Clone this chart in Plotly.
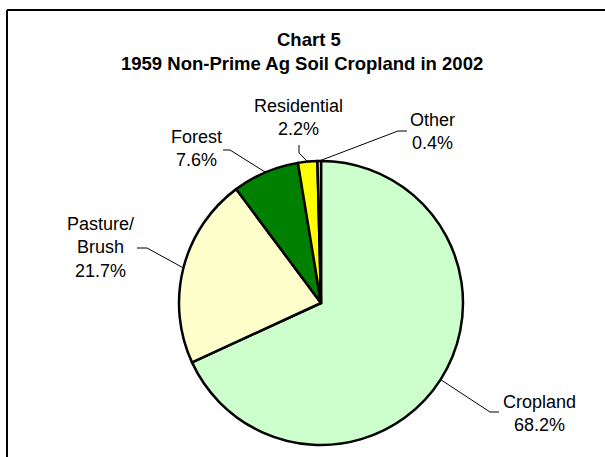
import math
import plotly.graph_objects as go

# ---- data ----
categories = ["Cropland", "Pasture/<br>Brush", "Forest", "Residential", "Other"]
values = [68.2, 21.7, 7.6, 2.2, 0.4]
colors = ["#CCFFCC", "#FFFFCC", "#008000", "#FFFF00", "#FFFFFF"]
title_lines = ["Chart 5", "1959 Non-Prime Ag Soil Cropland in 2002"]

# ---- layout (pixels) ----
W, H = 605, 457
CX, CY, R = 321, 303, 142
FONT = "Liberation Sans, Arial, sans-serif"

def px(x):
    return x / W

def py(y):
    return 1 - y / H

# label block centres and leader elbow/end points (pixels)
label_pos = [(539, 413), (100, 247), (196, 148), (298, 117), (432, 131)]
leader_pts = [
    [(499, 412), (490, 412)],
    [(137, 248), (147, 248)],
    [(223, 150), (230, 150)],
    [(299, 145), (299, 153)],
    [(407, 131), (398, 131)],
]
title_pos = [(309, 39), (302, 63)]

fig = go.Figure()
fig.add_trace(go.Pie(
    labels=categories,
    values=values,
    sort=False,
    direction="clockwise",
    rotation=0,
    marker=dict(colors=colors, line=dict(color="black", width=2.5)),
    textinfo="none",
    hoverinfo="none",
    showlegend=False,
    domain=dict(x=[px(CX - R), px(CX + R)], y=[py(CY + R), py(CY - R)]),
))

total = sum(values)
annotations = []
shapes = []
cum = 0.0
for i, (cat, v) in enumerate(zip(categories, values)):
    mid = (cum + v / 2) / total * 2 * math.pi
    cum += v
    ex = CX + R * math.sin(mid)
    ey = CY - R * math.cos(mid)
    lx, ly = label_pos[i]
    annotations.append(dict(
        x=px(lx), y=py(ly), xref="paper", yref="paper",
        text=f"{cat}<br>{v:.1f}%", showarrow=False,
        xanchor="center", yanchor="middle", align="center",
        font=dict(family=FONT, size=18, color="black"),
    ))
    pts = leader_pts[i] + [(ex, ey)]
    path = "M " + " L ".join(f"{px(x)},{py(y)}" for x, y in pts)
    shapes.append(dict(type="path", xref="paper", yref="paper", path=path,
                       line=dict(color="black", width=1)))

# outer chart border (top and left edges visible)
shapes.append(dict(type="line", xref="paper", yref="paper",
                   x0=px(7), x1=1.05, y0=py(10), y1=py(10),
                   line=dict(color="black", width=2)))
shapes.append(dict(type="line", xref="paper", yref="paper",
                   x0=px(7), x1=px(7), y0=py(10), y1=-0.05,
                   line=dict(color="black", width=2)))

for (tx, ty), line in zip(title_pos, title_lines):
    annotations.append(dict(
        x=px(tx), y=py(ty), xref="paper", yref="paper",
        text=f"<b>{line}</b>", showarrow=False,
        xanchor="center", yanchor="middle", align="center",
        font=dict(family=FONT, size=18.5, color="black"),
    ))

fig.update_layout(
    width=W, height=H,
    margin=dict(l=0, r=0, t=0, b=0),
    paper_bgcolor="white", plot_bgcolor="white",
    annotations=annotations, shapes=shapes,
)

fig.write_html("out.html", config={"displayModeBar": False},
               post_script="document.body.style.margin='0';")
